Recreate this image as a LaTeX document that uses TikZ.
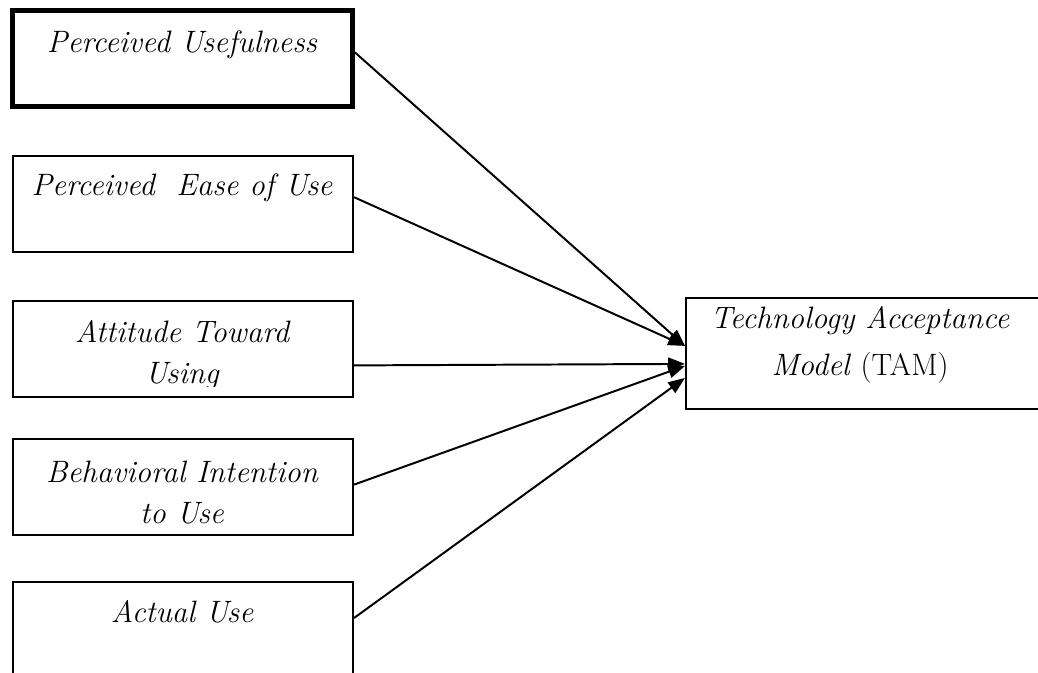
\documentclass[tikz,border=0pt]{standalone}
\usetikzlibrary{arrows.meta}

\begin{document}
\begin{tikzpicture}[x=0.025cm, y=-0.025cm,
    factorbox/.style={draw, minimum width=8.5cm, minimum height=2.4cm, anchor=north west, inner sep=0pt},
    boxtext/.style={font=\itshape\fontsize{22}{29}\selectfont, align=center, anchor=base, inner sep=0pt},
    link/.style={line width=1.4pt, -{Triangle[length=0.42cm, width=0.32cm]}}]
    % Page size, in pixels of the reference
    \clip (0,0) rectangle (1038,672);

    % Define factors: name/left/top/border/baseline of last line/text
    \def\factors{%
      pu/10/8/3.5pt/44/Perceived Usefulness,%
      peou/12/155/1.4pt/40/Perceived~~Ease of Use,%
      atu/12/300/1.4pt/83/Attitude Toward\\Using,%
      biu/12/438/1.4pt/85/Behavioral Intention\\to Use,%
      au/12/581/1.4pt/41/Actual Use%
    }

    % Draw factor boxes and their texts
    \foreach \name/\xpos/\ypos/\border/\base/\txt in \factors {
        \node[factorbox, line width=\border] (\name) at (\xpos, \ypos) {};
        \begin{scope}
            \clip (\name.north west) rectangle ([yshift=0.28cm]\name.south east);
            \node[boxtext] (\name-text) at (182, \ypos+\base) {\txt};
        \end{scope}
    }

    % Target box
    \node[draw, line width=1.4pt, minimum width=9.5cm, minimum height=2.775cm,
          anchor=north west, inner sep=0pt] (tam) at (685, 297) {};
    \node[boxtext, font=\fontsize{22}{33}\selectfont] (tam-text) at (860, 375)
        {\textit{Technology Acceptance}\\\textit{Model} (TAM)};

    % Arrow ends on the target box
    \coordinate (in-a) at ([yshift=0.19cm]tam.west);
    \coordinate (in-b) at ([yshift=-0.26cm]tam.west);
    \coordinate (in-c) at ([yshift=-0.31cm]tam.west);
    \coordinate (in-d) at ([yshift=-0.61cm]tam.west);

    % Connectors
    \draw[link] ([yshift=0.15cm]pu.east) -- (in-a);
    \draw[link] ([yshift=0.17cm]peou.east) -- (in-a);
    \draw[link] ([yshift=-0.41cm]atu.east) -- (in-b);
    \draw[link] ([yshift=0.06cm]biu.east) -- (in-c);
    \draw[link] ([yshift=0.3cm]au.east) -- (in-d);

\end{tikzpicture}
\end{document}
